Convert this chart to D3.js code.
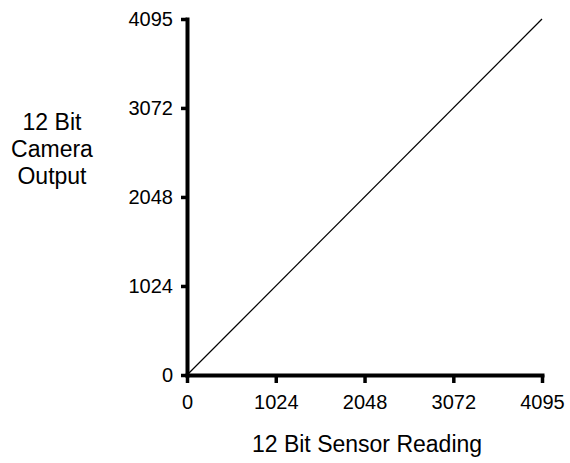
<!DOCTYPE html>
<html>
<head>
<meta charset="utf-8">
<script src="https://cdn.jsdelivr.net/npm/d3@7"></script>
<style>
    body { margin: 0; background: #fff; }
    svg { display: block; font-family: "Liberation Sans", Arial, sans-serif; }
</style>
</head>
<body>
<div id="chart"></div>
<script>
// data
var sensorReading = [0, 4095];
var cameraOutput = [0, 4095];
var xTickValues = [0, 1024, 2048, 3072, 4095];
var yTickValues = [0, 1024, 2048, 3072, 4095];
var yTitleLines = ["12 Bit", "Camera", "Output"];
var xTitle = "12 Bit Sensor Reading";

var width = 570;
var height = 463;

var x = d3.scaleLinear()
    .domain([0, 4095])
    .range([187, 542]);

var y = d3.scaleLinear()
    .domain([0, 4095])
    .range([375, 19]);

var svg = d3.select("#chart").append("svg")
    .attr("width", width)
    .attr("height", height);

var xAxis = d3.axisBottom(x)
    .tickValues(xTickValues)
    .tickFormat(function(d) { return d; })
    .tickSizeInner(8)
    .tickSizeOuter(0)
    .tickPadding(12);

var yAxis = d3.axisLeft(y)
    .tickValues(yTickValues)
    .tickFormat(function(d) { return d; })
    .tickSizeInner(6)
    .tickSizeOuter(0)
    .tickPadding(8);

function styleAxis(g) {
    g.attr("font-family", null)
        .style("font-size", "20px");
    g.select(".domain")
        .attr("stroke", "#000")
        .attr("stroke-width", 4)
        .attr("stroke-linecap", "square");
    g.selectAll(".tick line")
        .attr("stroke", "#000")
        .attr("stroke-width", 3.5);
    g.selectAll(".tick text").attr("fill", "#000");
}

// the line goes under the axes
svg.append("path")
    .datum(d3.zip(sensorReading, cameraOutput))
    .attr("fill", "none")
    .attr("stroke", "#000")
    .attr("stroke-width", 1.2)
    .attr("d", d3.line()
        .x(function(d) { return x(d[0]); })
        .y(function(d) { return y(d[1]); }));

svg.append("g")
    .attr("transform", "translate(0," + y(0) + ")")
    .call(xAxis)
    .call(styleAxis);

svg.append("g")
    .attr("transform", "translate(" + x(0) + ",0)")
    .call(yAxis)
    .call(styleAxis);

// axis titles
svg.append("text")
    .attr("x", 367)
    .attr("y", 452)
    .attr("text-anchor", "middle")
    .style("font-size", "23px")
    .text(xTitle);

svg.append("g")
    .selectAll("text")
    .data(yTitleLines)
    .enter().append("text")
    .attr("x", 52)
    .attr("y", function(d, i) { return 130 + i * 27; })
    .attr("text-anchor", "middle")
    .style("font-size", "23px")
    .text(function(d) { return d; });
</script>
</body>
</html>
